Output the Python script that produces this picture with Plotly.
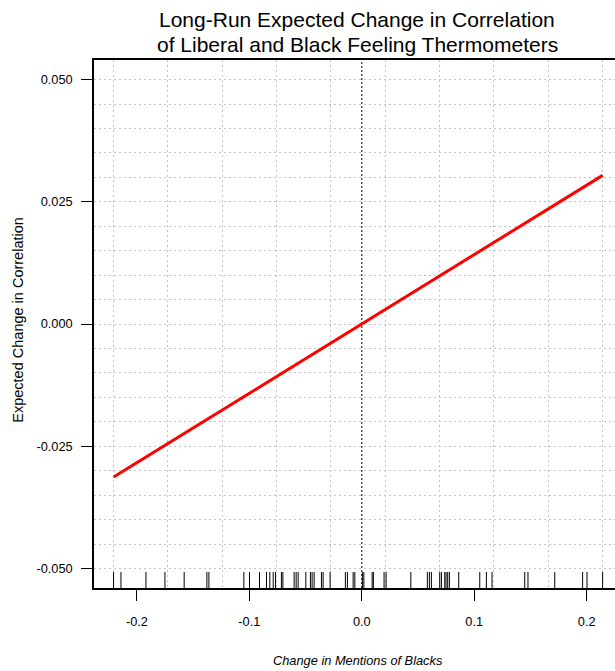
import numpy as np
import plotly.graph_objects as go

# ---- data ----
line_x = [-0.2208, 0.0, 0.2142]
line_y = [-0.0313, 0.0, 0.0304]

rug_x = [-0.2208, -0.2142, -0.1920, -0.1751, -0.1580, -0.1378, -0.1360,
         -0.1049, -0.0999, -0.0910, -0.0848, -0.0818, -0.0788, -0.0768,
         -0.0715, -0.0702, -0.0602, -0.0584, -0.0566, -0.0498, -0.0457,
         -0.0442, -0.0424, -0.0359, -0.0344, -0.0282, -0.0146, -0.0128,
         -0.0077, -0.0062, 0.0005, 0.0018, 0.0092, 0.0103, 0.0198, 0.0216,
         0.0436, 0.0583, 0.0601, 0.0619, 0.0693, 0.0708, 0.0738, 0.0749,
         0.0764, 0.0779, 0.0862, 0.1049, 0.1108, 0.1158, 0.1449, 0.1478,
         0.1716, 0.1964, 0.2003, 0.2142]

x_ticks = [-0.2, -0.1, 0.0, 0.1, 0.2]
x_tick_labels = ["-0.2", "-0.1", "0.0", "0.1", "0.2"]
y_ticks = [-0.050, -0.025, 0.000, 0.025, 0.050]
y_tick_labels = ["-0.050", "-0.025", "0.000", "0.025", "0.050"]

title_lines = ["Long-Run Expected Change in Correlation",
               "of Liberal and Black Feeling Thermometers"]
x_title = "Change in Mentions of Blacks"
y_title = "Expected Change in Correlation"

# ---- derived ----
x_grid = list(np.linspace(min(rug_x), max(rug_x), 10))
rug_len = 0.0303
rx, ry = [], []
for v in rug_x:
    rx += [v, v, None]
    ry += [0, rug_len, None]

FONT = "Liberation Sans, Arial, Helvetica, sans-serif"
GRID = "#c4c4c4"

fig = go.Figure()
fig.add_trace(go.Scatter(x=rx, y=ry, mode="lines", yaxis="y2",
                         line=dict(color="black", width=1),
                         hoverinfo="skip", showlegend=False))
fig.add_trace(go.Scatter(x=line_x, y=line_y, mode="lines",
                         line=dict(color="#ff0000", width=3),
                         showlegend=False))

fig.add_shape(type="line", xref="x", yref="paper", x0=0, x1=0, y0=0, y1=1,
              line=dict(color="black", width=1, dash="2px,2px"), layer="between")

title_y = [1.0758, 1.029]
annotations = [
    dict(text=t, xref="paper", yref="paper", x=0.505, y=ty,
         xanchor="center", yanchor="middle", showarrow=False,
         font=dict(size=21, family=FONT))
    for t, ty in zip(title_lines, title_y)
]
annotations += [
    dict(text="<i>" + x_title + "</i>", xref="paper", yref="paper",
         x=0.507, y=-0.138, xanchor="center", yanchor="middle",
         showarrow=False, font=dict(size=12.8, family=FONT)),
    dict(text=y_title, xref="paper", yref="paper", x=-0.146, y=0.508,
         xanchor="center", yanchor="middle", textangle=-90,
         showarrow=False, font=dict(size=14.5, family=FONT)),
]

fig.update_layout(
    width=615, height=671,
    margin=dict(l=94, r=0, t=60, b=83),
    paper_bgcolor="white", plot_bgcolor="white",
    font=dict(family=FONT, size=12.8, color="black"),
    xaxis=dict(range=[-0.2382, 0.2252], tickmode="array", tickvals=x_ticks,
               ticktext=x_tick_labels, ticks="outside", ticklen=11,
               tickwidth=1, tickcolor="black", showgrid=False, zeroline=False,
               showline=True, linecolor="black", linewidth=1.5, mirror=True,
               ticklabelstandoff=10,
               minor=dict(tickmode="array", tickvals=x_grid, showgrid=True,
                          gridcolor=GRID, griddash="2px,3px", gridwidth=1,
                          ticks="")),
    yaxis=dict(range=[-0.054, 0.054], tickmode="array", tickvals=y_ticks,
               ticktext=y_tick_labels, ticks="outside", ticklen=11,
               tickwidth=1, tickcolor="black", showgrid=True, gridcolor=GRID,
               griddash="2px,3px", gridwidth=1, zeroline=False,
               showline=True, linecolor="black", linewidth=1.5, mirror=False,
               ticklabelstandoff=6,
               minor=dict(dtick=0.005, tick0=0, showgrid=True, gridcolor=GRID,
                          griddash="2px,3px", gridwidth=1, ticks="")),
    yaxis2=dict(range=[0, 1], overlaying="y", visible=False, fixedrange=True),
    annotations=annotations,
)

fig.write_html("out.html", config={"displayModeBar": False},
               post_script="document.body.style.margin='0px';"
                           "document.body.style.overflow='hidden';")
